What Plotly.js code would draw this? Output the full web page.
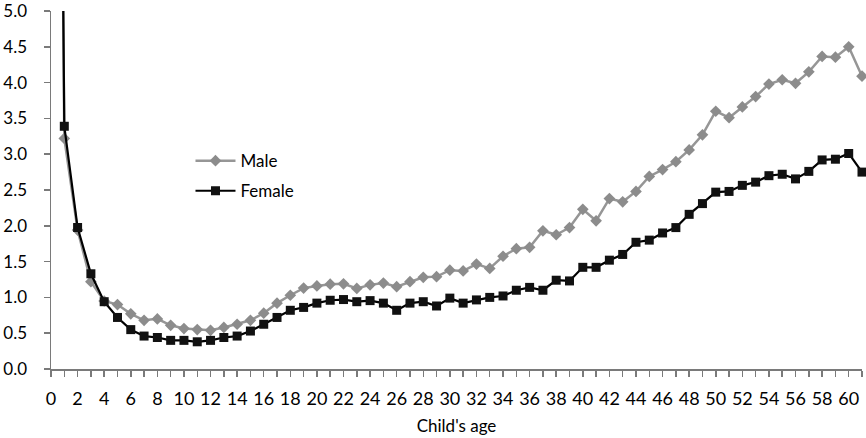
<!DOCTYPE html>
<html>
<head>
<meta charset="utf-8">
<script src="https://cdn.plot.ly/plotly-3.0.1.min.js"></script>
<style>html,body{margin:0;padding:0;background:#fff;}#chart{width:866px;height:438px;}</style>
</head>
<body>
<div id="chart"></div>
<script>
const ages = [];
for (let a = 0; a <= 61; a++) ages.push(a);

const male = [25, 3.22, 1.94, 1.22, 0.95, 0.90, 0.77, 0.68, 0.70, 0.61, 0.565,
  0.55, 0.54, 0.58, 0.625, 0.68, 0.78, 0.92, 1.03, 1.13, 1.16,
  1.185, 1.19, 1.125, 1.175, 1.20, 1.15, 1.22, 1.28, 1.29, 1.38,
  1.37, 1.465, 1.405, 1.575, 1.68, 1.70, 1.93, 1.875, 1.975, 2.23,
  2.07, 2.38, 2.335, 2.48, 2.69, 2.785, 2.895, 3.06, 3.27, 3.60,
  3.51, 3.66, 3.805, 3.98, 4.04, 3.99, 4.15, 4.365, 4.355, 4.50, 4.09];

const female = [25, 3.39, 1.976, 1.33, 0.94, 0.72, 0.55, 0.46, 0.44, 0.40, 0.40,
  0.38, 0.40, 0.44, 0.46, 0.53, 0.625, 0.72, 0.82, 0.86, 0.92,
  0.96, 0.97, 0.94, 0.955, 0.92, 0.82, 0.92, 0.94, 0.88, 0.99,
  0.92, 0.965, 1.0, 1.02, 1.10, 1.14, 1.10, 1.24, 1.23, 1.42,
  1.42, 1.52, 1.60, 1.77, 1.80, 1.90, 1.975, 2.16, 2.31, 2.47,
  2.48, 2.565, 2.61, 2.70, 2.72, 2.655, 2.76, 2.92, 2.93, 3.01, 2.75];

const seriesNames = ['Male', 'Female'];
const xTitle = "Child's age";

const fontFam = 'Lato, "Liberation Sans", sans-serif';

const traces = [
  {
    x: ages, y: male, name: seriesNames[0], legendgroup: 'm', type: 'scatter', mode: 'lines+markers',
    line: {color: '#969696', width: 2.5},
    marker: {symbol: 'diamond', size: 9, color: '#8c8c8c'},
    cliponaxis: false
  },
  {
    x: ages, y: female, name: seriesNames[1], legendgroup: 'f', type: 'scatter', mode: 'lines+markers',
    line: {color: '#000000', width: 2.2},
    marker: {symbol: 'square', size: 9, color: '#111111'},
    cliponaxis: false
  }
];

const layout = {
  width: 866, height: 438,
  margin: {l: 51, r: 4, t: 11, b: 69},
  paper_bgcolor: '#fff', plot_bgcolor: '#fff',
  font: {family: fontFam, size: 17, color: '#000'},
  showlegend: true,
  legend: {x: 0.172, y: 0.631, xanchor: 'left', yanchor: 'top',
    font: {family: fontFam, size: 17, color: '#000'}, bgcolor: 'rgba(0,0,0,0)',
    tracegroupgap: 5, itemwidth: 40},
  xaxis: {
    range: [0, 61], tick0: 0, dtick: 2, showgrid: false, zeroline: false,
    showline: true, linecolor: '#7a7a7a', linewidth: 1.5,
    ticks: 'outside', ticklen: 6, tickcolor: '#7a7a7a', tickwidth: 1.5,
    minor: {dtick: 1, ticks: 'outside', ticklen: 6, tickcolor: '#7a7a7a', tickwidth: 1.5},
    tickfont: {family: fontFam, size: 18, color: '#000'},
    ticklabelstandoff: 7, ticklabeloverflow: 'allow',
    title: {text: xTitle, font: {family: fontFam, size: 17, color: '#000'}, standoff: 12}
  },
  yaxis: {
    range: [0, 5], dtick: 0.5, tickformat: '.1f', showgrid: false, zeroline: false,
    showline: true, linecolor: '#7a7a7a', linewidth: 1.5,
    ticks: 'outside', ticklen: 6, tickcolor: '#7a7a7a', tickwidth: 1.5,
    tickfont: {family: fontFam, size: 17, color: '#000'},
    ticklabelstandoff: 13, ticklabeloverflow: 'allow'
  }
};

Plotly.newPlot('chart', traces, layout, {displayModeBar: false, staticPlot: true});
</script>
</body>
</html>
